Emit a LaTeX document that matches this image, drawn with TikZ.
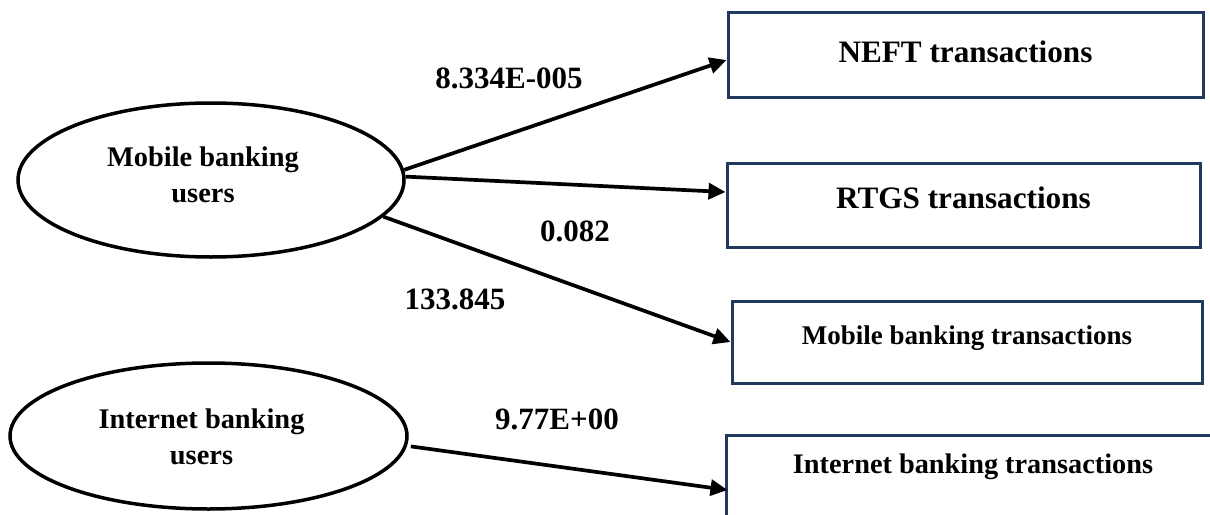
\documentclass[tikz,border=0pt]{standalone}
\usepackage{fontspec}
\setmainfont{Liberation Serif}
\usetikzlibrary{arrows.meta,shapes.geometric}
\definecolor{boxnavy}{HTML}{223A5E}
\begin{document}
\begin{tikzpicture}[x=1pt,y=-1pt,
  ell/.style={draw=black, line width=3.5pt, ellipse, inner sep=0pt},
  tbox/.style={draw=boxnavy, line width=3pt, rectangle, inner sep=0pt, text height=20pt},
  utxt/.style={font=\fontsize{28.4}{36}\selectfont\bfseries, align=center, inner sep=0pt},
  lbl/.style={font=\fontsize{31}{36}\selectfont\bfseries, inner sep=0pt},
  conn/.style={line width=3.7pt, -{Triangle[length=17pt,width=16pt]}}
]
\useasboundingbox (0,0) rectangle (1210,514);
\clip (0,0) rectangle (1210,514);

% ellipses
\node[ell, minimum width=386pt, minimum height=154pt] (mbu) at (211,180) {};
\node[utxt] (mbut) at (203,175) {Mobile banking\\users};
\node[ell, minimum width=397pt, minimum height=146pt] (ibu) at (208.5,436) {};
\node[utxt] (ibut) at (201.5,436.4) {Internet banking\\users};

% boxes
\node[tbox, minimum width=475pt, minimum height=85pt, text depth=5pt,
      font=\fontsize{31.2}{36}\selectfont\bfseries] (neft) at (965.5,54.5) {NEFT transactions};
\node[tbox, minimum width=473pt, minimum height=84pt, text depth=13.4pt,
      font=\fontsize{31.2}{36}\selectfont\bfseries] (rtgs) at (963.5,205) {RTGS transactions};
\node[tbox, minimum width=470pt, minimum height=82pt, text depth=16pt,
      font=\fontsize{27}{32}\selectfont\bfseries] (mbt) at (967,342) {Mobile banking transactions};
\node[tbox, minimum width=494pt, minimum height=105pt, text depth=49pt,
      font=\fontsize{28.3}{32}\selectfont\bfseries] (ibt) at (973,487.5) {Internet banking transactions};

% connectors
\draw[conn] (mbu.3) -- ([yshift=-5.5pt]neft.west);
\draw[conn] (mbu.1) -- ([yshift=13pt]rtgs.west);
\draw[conn] (mbu.-12.5) -- (mbt.west);
\draw[conn] ([xshift=4pt]ibu.-3.6) -- ([xshift=3pt,yshift=-2.5pt]ibt.west);

% coefficient labels
\node[lbl] (l1) at (509,78) {8.334E-005};
\node[lbl] (l2) at (575,231) {0.082};
\node[lbl] (l3) at (455,299) {133.845};
\node[lbl] (l4) at (557,419) {9.77E+00};
\end{tikzpicture}
\end{document}
